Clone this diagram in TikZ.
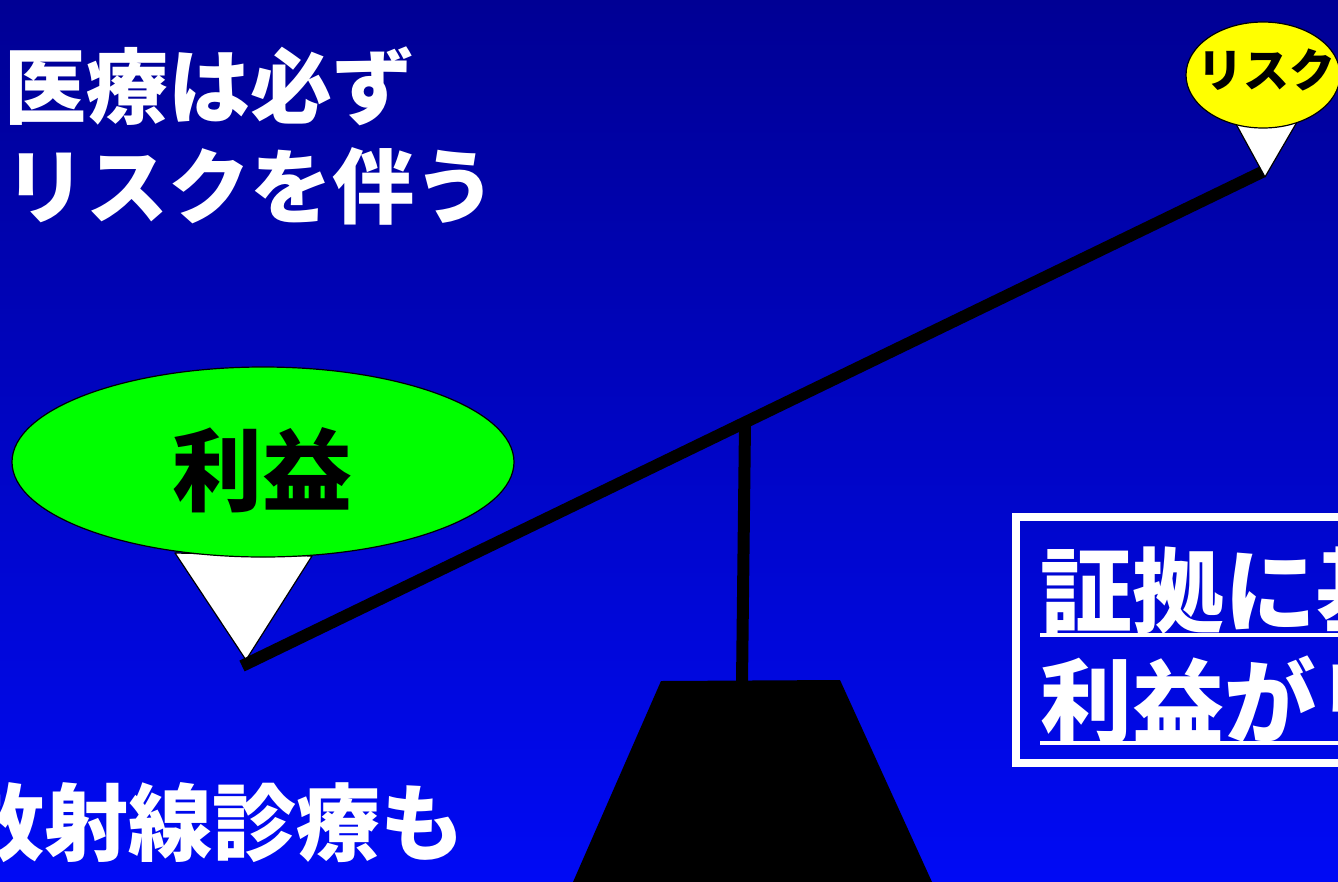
\documentclass[tikz,border=0pt]{standalone}
\usepackage{fontspec}
\newfontfamily\jp{Noto Sans CJK JP}
\usetikzlibrary{shapes.geometric}
\definecolor{bgtop}{RGB}{0,0,148}
\definecolor{bgbot}{RGB}{0,10,245}
\definecolor{benefitgreen}{RGB}{0,255,0}
\definecolor{riskyellow}{RGB}{255,255,0}
\tikzset{
  whitetext/.style={text=white, inner sep=0pt},
  blacktext/.style={text=black, inner sep=0pt},
  pointer/.style={draw=black, fill=white, line width=1.2pt, line join=round},
  bubble/.style={ellipse, draw=black, line width=1.2pt, inner sep=0pt},
  heavy/.style={line width=12pt, black},
}
\begin{document}
\begin{tikzpicture}[x=1pt,y=-1pt]
\useasboundingbox (0,0) rectangle (1338,881);
\shade[top color=bgtop, bottom color=bgbot] (0,0) rectangle (1338,881);
\clip (0,0) rectangle (1338,881);

% left texts
\node[whitetext, anchor=west, font=\jp\bfseries\fontsize{82}{82}\selectfont] (t1) at (4,86) {医療は必ず};
\node[whitetext, anchor=west, font=\jp\bfseries\fontsize{82}{82}\selectfont] (t2) at (4,186) {リスクを伴う};
\node[whitetext, anchor=west, font=\jp\bfseries\fontsize{84}{84}\selectfont] (t3) at (-40,823) {放射線診療も};

% pointers (behind bubbles)
\path[pointer] (175,553) -- (312,556) -- (246,660) -- cycle;
\path[pointer] (1236,124) -- (1297,122) -- (1265,177) -- cycle;

% bubbles
\node[bubble, fill=benefitgreen, minimum width=502pt, minimum height=190pt] (benefit) at (263,462) {};
\node[blacktext, font=\jp\bfseries\fontsize{90}{90}\selectfont] (benefittext) at (262,470) {利益};
\node[bubble, fill=riskyellow, minimum width=154pt, minimum height=106pt] (risk) at (1263,75) {};
\node[blacktext, font=\jp\bfseries\fontsize{46}{46}\selectfont] (risktext) at (1266,70) {リスク};

% balance
\coordinate (bl) at (242,666);
\coordinate (br) at (1262,172);
\coordinate (ptop) at (745,423);
\coordinate (pbot) at (742,683);
\draw[heavy] (bl) -- (br);
\draw[heavy] (ptop) -- (pbot);
\fill[black] (661,681) -- (840,680) -- (932,882) -- (573,882) -- cycle;

% right box
\draw[white, line width=8pt] (1016,517) rectangle (1360,763);
\node[whitetext, anchor=west, font=\jp\bfseries\fontsize{92}{92}\selectfont] (r1) at (1040,591) {証拠に基};
\node[whitetext, anchor=west, font=\jp\bfseries\fontsize{92}{92}\selectfont] (r2) at (1040,700) {利益がリ};
\coordinate (u1a) at (1040,635); \coordinate (u1b) at (1338,635);
\coordinate (u2a) at (1040,743); \coordinate (u2b) at (1338,743);
\draw[white, line width=4pt] (u1a) -- (u1b);
\draw[white, line width=4pt] (u2a) -- (u2b);
\end{tikzpicture}
\end{document}
